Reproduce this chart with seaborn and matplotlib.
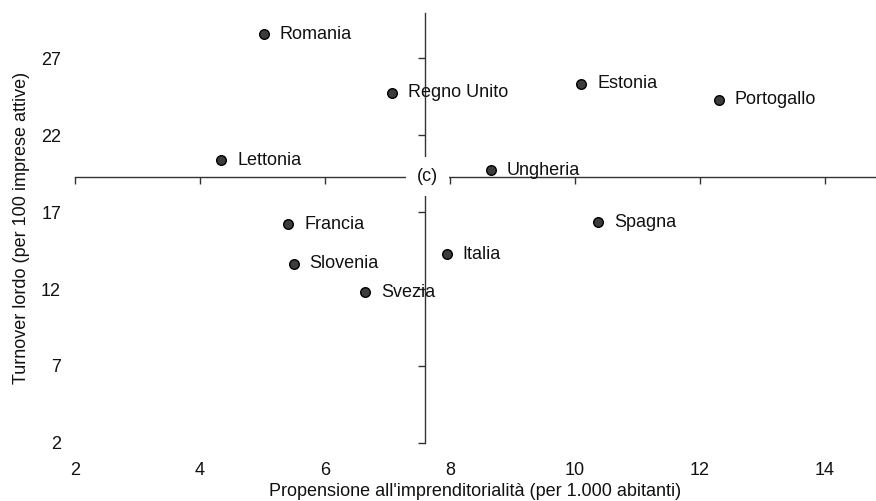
import matplotlib
matplotlib.use('Agg')
import matplotlib.pyplot as plt
import seaborn as sns
import pandas as pd

countries = ["Romania", "Regno Unito", "Estonia", "Portogallo", "Lettonia", "Ungheria",
             "Francia", "Spagna", "Italia", "Slovenia", "Svezia"]
propensione = [5.02, 7.07, 10.10, 12.30, 4.34, 8.66, 5.41, 10.37, 7.95, 5.50, 6.64]
turnover = [28.57, 24.78, 25.37, 24.32, 20.37, 19.72, 16.20, 16.35, 14.26, 13.63, 11.80]
x_ticks = [2, 4, 6, 8, 10, 12, 14]
y_ticks = [2, 7, 12, 17, 22, 27]
cross_x = 7.6
cross_y = 19.31
cross_label = "(c)"
x_label = "Propensione all'imprenditorialità (per 1.000 abitanti)"
y_label = "Turnover lordo (per 100 imprese attive)"

sns.set_theme(style='white')
plt.rcParams['font.family'] = ['Liberation Sans', 'DejaVu Sans']

df = pd.DataFrame({"country": countries, "x": propensione, "y": turnover})

fig = plt.figure(figsize=(8.76, 5.01), dpi=100)
rect = [75 / 876, 1 - 442.7 / 501, 1 - 75 / 876, (442.7 - 13.3) / 501]
ax = fig.add_axes(rect)

line_col = '#333333'
sns.scatterplot(data=df, x="x", y="y", ax=ax, s=48, color='#3c3c3c',
                edgecolor='black', linewidth=1.0, zorder=4, legend=False)

ax.set_xlim(2, 14.82)
ax.set_ylim(2, 29.94)
ax.set_xticks(x_ticks)
ax.set_yticks(y_ticks)

for s in ['top', 'right']:
    ax.spines[s].set_visible(False)
ax.spines['left'].set_position(('data', cross_x))
ax.spines['bottom'].set_position(('data', cross_y))
for s in ['left', 'bottom']:
    ax.spines[s].set_color(line_col)
    ax.spines[s].set_linewidth(1.0)
ax.tick_params(axis='both', which='major', direction='out', length=5, width=1.0,
               color=line_col, labelbottom=False, labelleft=False,
               bottom=True, left=True)
ax.set_xlabel("")
ax.set_ylabel("")

for _, r in df.iterrows():
    ax.annotate(r["country"], (r["x"], r["y"]), xytext=(11.5, 0),
                textcoords='offset points', va='center', ha='left',
                fontsize=13, color='#111111', zorder=5)

ax.text(cross_x + 0.04, cross_y, cross_label, ha='center', va='center', fontsize=13,
        color='#111111', zorder=6,
        bbox=dict(boxstyle='square,pad=0.6', facecolor='white', edgecolor='none'))

# label axes (tick labels at the frame edges)
ax2 = fig.add_axes(rect, sharex=ax, sharey=ax)
ax2.patch.set_visible(False)
for s in ax2.spines.values():
    s.set_visible(False)
ax2.tick_params(axis='both', length=0, labelsize=13, labelcolor='#111111')
ax2.tick_params(axis='x', pad=14)
ax2.tick_params(axis='y', pad=10)
ax2.set_xlabel(x_label, fontsize=13, color='#111111', labelpad=3)
ax2.set_ylabel(y_label, fontsize=13, color='#111111', labelpad=8)

fig.savefig("out.png", dpi=100)
